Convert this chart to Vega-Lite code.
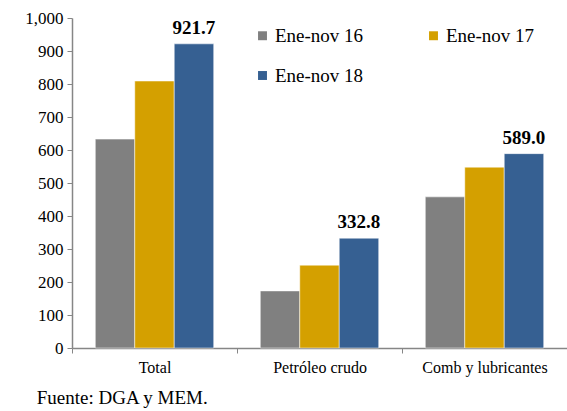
{
  "$schema": "https://vega.github.io/schema/vega-lite/v6.json",
  "width": 495,
  "height": 330,
  "autosize": "none",
  "padding": {"left": 72, "top": 18, "right": 0, "bottom": 63},
  "background": "white",
  "config": {
    "view": {"stroke": null},
    "font": "Liberation Serif"
  },
  "title": {
    "text": "Fuente: DGA y MEM.",
    "orient": "bottom",
    "anchor": "start",
    "dx": 12,
    "offset": 14,
    "font": "Liberation Serif",
    "fontSize": 19,
    "fontWeight": "normal",
    "color": "#000000"
  },
  "data": {
    "values": [
      {"cat": "Total", "serie": "Ene-nov 16", "valor": 633, "label": ""},
      {"cat": "Total", "serie": "Ene-nov 17", "valor": 809, "label": ""},
      {"cat": "Total", "serie": "Ene-nov 18", "valor": 921.7, "label": "921.7"},
      {"cat": "Petróleo crudo", "serie": "Ene-nov 16", "valor": 173, "label": ""},
      {"cat": "Petróleo crudo", "serie": "Ene-nov 17", "valor": 251, "label": ""},
      {"cat": "Petróleo crudo", "serie": "Ene-nov 18", "valor": 332.8, "label": "332.8"},
      {"cat": "Comb y lubricantes", "serie": "Ene-nov 16", "valor": 458, "label": ""},
      {"cat": "Comb y lubricantes", "serie": "Ene-nov 17", "valor": 548, "label": ""},
      {"cat": "Comb y lubricantes", "serie": "Ene-nov 18", "valor": 589.0, "label": "589.0"}
    ]
  },
  "encoding": {
    "x": {
      "field": "cat",
      "type": "nominal",
      "sort": ["Total", "Petróleo crudo", "Comb y lubricantes"],
      "scale": {"paddingInner": 0, "paddingOuter": 0},
      "axis": {
        "title": null,
        "labelAngle": 0,
        "labelFont": "Liberation Serif",
        "labelFontSize": 16,
        "labelColor": "#000000",
        "labelPadding": 6,
        "domainColor": "#868686",
        "tickColor": "#868686",
        "tickBand": "extent",
        "tickSize": 5,
        "domainWidth": 1.5
      }
    },
    "xOffset": {
      "field": "serie",
      "type": "nominal",
      "scale": {"paddingInner": 0, "paddingOuter": 0.59}
    },
    "y": {
      "field": "valor",
      "type": "quantitative",
      "scale": {"domain": [0, 1000]},
      "axis": {
        "title": null,
        "values": [0, 100, 200, 300, 400, 500, 600, 700, 800, 900, 1000],
        "format": ",d",
        "grid": false,
        "labelFont": "Liberation Serif",
        "labelFontSize": 17,
        "labelColor": "#000000",
        "labelPadding": 4,
        "domainColor": "#868686",
        "tickColor": "#868686",
        "tickSize": 5,
        "domainWidth": 1.5
      }
    }
  },
  "layer": [
    {
      "mark": {"type": "bar", "stroke": "white", "strokeWidth": 0.5},
      "encoding": {
        "color": {
          "field": "serie",
          "type": "nominal",
          "scale": {
            "domain": ["Ene-nov 16", "Ene-nov 17", "Ene-nov 18"],
            "range": ["#808080", "#D4A000", "#366092"]
          },
          "legend": {
            "title": null,
            "orient": "none",
            "direction": "horizontal",
            "legendX": 181,
            "legendY": 8,
            "columns": 2,
            "columnPadding": 60,
            "rowPadding": 20,
            "symbolType": "square",
            "symbolSize": 80,
            "symbolStrokeWidth": 0,
            "symbolOffset": 0,
            "labelFont": "Liberation Serif",
            "labelFontSize": 19,
            "labelColor": "#000000",
            "labelOffset": 3
          }
        }
      }
    },
    {
      "mark": {
        "type": "text",
        "baseline": "bottom",
        "dy": -6,
        "font": "Liberation Serif",
        "fontSize": 19,
        "fontWeight": "bold",
        "color": "#000000"
      },
      "encoding": {
        "text": {"field": "label"}
      }
    }
  ]
}
